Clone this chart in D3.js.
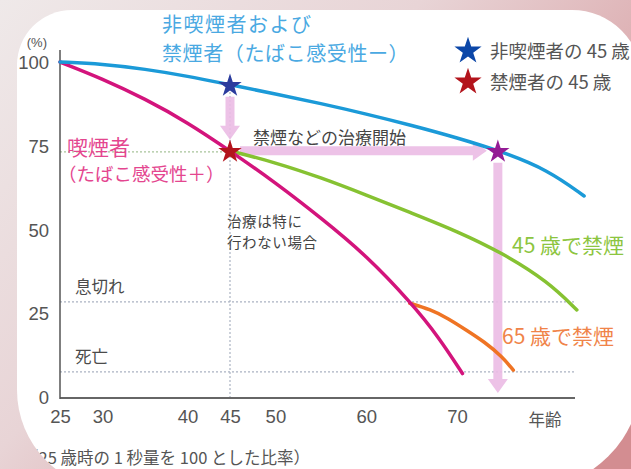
<!DOCTYPE html>
<html>
<head>
<meta charset="utf-8">
<script src="https://cdn.jsdelivr.net/npm/d3@7"></script>
<style>
  html, body { margin: 0; padding: 0; background: #fff; }
  svg { display: block; }
  text { font-family: "Noto Sans CJK JP", "Noto Sans", sans-serif; }
  .num { font-family: "Liberation Sans", Arial, sans-serif; }
</style>
</head>
<body>
<svg id="chart" width="631" height="469"></svg>
<script>
// ---------- data ----------
const xTicks = [25, 30, 40, 45, 50, 60, 70];
const yTicks = [0, 25, 50, 75, 100];

const nonSmokerAge = [25, 30, 35, 40, 45, 50, 55, 60, 65, 70, 75, 80, 84];
const nonSmokerVal = [100, 99.4, 97.9, 95.8, 93.2, 90.5, 87.6, 84.5, 81.1, 77.4, 73.2, 67.8, 60];

const smokerAge = [25, 30, 35, 40, 45, 50, 55, 60, 65, 68, 70.6];
const smokerVal = [100, 95, 89, 82, 73.5, 64, 53.5, 42.3, 28, 17.8, 7];

const quit45Age = [45, 50, 55, 60, 65, 70, 75, 80, 83.2];
const quit45Val = [73.5, 70, 65.5, 60.3, 54.9, 49.5, 43, 34.5, 26];

const quit65Age = [64.8, 67, 69, 71, 73, 75, 76.2];
const quit65Val = [28, 26.2, 23.5, 20, 16.5, 12, 8];

const thresholdLabels = ["息切れ", "死亡"];
const thresholdVals = [28.4, 7.5];

const markerAge = [45, 45, 74.5];
const markerVal = [93.2, 73.5, 73.5];

const legendLabels = ["非喫煙者の 45 歳", "禁煙者の 45 歳"];

// ---------- styles ----------
const C = {
  blue: "#1b9ad8", magenta: "#d3147c", green: "#86c232", orange: "#ef7424",
  starBlue: "#2b3c9e", starRed: "#b3141c", starPurple: "#941c95",
  legBlue: "#0c47a8", legRed: "#b3141c",
  arrow: "#ebbbe4", grid: "#aab2c2", text: "#4a4a4a", tick: "#555"
};

const svg = d3.select("#chart");

// background
const defs = svg.append("defs");
const bg = defs.append("linearGradient").attr("id", "bg")
  .attr("x1", 0).attr("y1", 0).attr("x2", 1).attr("y2", 0.7);
bg.append("stop").attr("offset", "0%").attr("stop-color", "#efe9e9");
bg.append("stop").attr("offset", "45%").attr("stop-color", "#e8d4d6");
bg.append("stop").attr("offset", "100%").attr("stop-color", "#d38d91");
svg.append("rect").attr("width", 631).attr("height", 469).attr("fill", "url(#bg)");

// card shape
const L = 17, T = 10, R = 642, B = 490, tl = 55, tr = 70, br = 115, bl = 100;
const cardPath = `M${L + tl},${T} H${R - tr} A${tr},${tr} 0 0 1 ${R},${T + tr} V${B - br} A${br},${br} 0 0 1 ${R - br},${B} H${L + bl} A${bl},${bl} 0 0 1 ${L},${B - bl} V${T + tl} A${tl},${tl} 0 0 1 ${L + tl},${T} Z`;
defs.append("clipPath").attr("id", "card").append("path").attr("d", cardPath);
svg.append("path").attr("d", cardPath).attr("fill", "#fff");

const g = svg.append("g").attr("clip-path", "url(#card)");

// scales
const x = d3.scaleLinear().domain([25, 45, 70, 85]).range([60, 230, 457, 593.2]);
const y = d3.scaleLinear().domain([0, 100]).range([397, 62]);

// threshold dotted lines
thresholdVals.forEach((v, i) => {
  g.append("line").attr("x1", x(25)).attr("x2", 575)
    .attr("y1", y(v)).attr("y2", y(v))
    .attr("stroke", C.grid).attr("stroke-width", 1.2).attr("stroke-dasharray", "2,2");
  g.append("text").attr("x", 75).attr("y", y(v) - 16)
    .attr("font-size", 16.5).attr("fill", C.text).attr("dominant-baseline", "central")
    .text(thresholdLabels[i]);
});
// 45 vertical dotted & level line
g.append("line").attr("x1", x(45)).attr("x2", x(45)).attr("y1", 92).attr("y2", y(0))
  .attr("stroke", C.grid).attr("stroke-width", 1.2).attr("stroke-dasharray", "2,2");
g.append("line").attr("x1", x(25)).attr("x2", x(45)).attr("y1", y(markerVal[1]) + 1).attr("y2", y(markerVal[1]) + 1)
  .attr("stroke", "#a8c49a").attr("stroke-width", 1.2).attr("stroke-dasharray", "2,2");

// axes
const xAxis = d3.axisBottom(x).tickValues(xTicks).tickSize(0).tickPadding(12);
const xg = g.append("g").attr("transform", `translate(0,${y(0) + 1})`).call(xAxis);
xg.select(".domain").remove();
xg.selectAll("text").attr("class", "num").attr("font-size", 18.5).attr("fill", C.tick);
g.append("line").attr("x1", x(25)).attr("x2", 575).attr("y1", y(0) + 1).attr("y2", y(0) + 1)
  .attr("stroke", "#666").attr("stroke-width", 2);

const yAxis = d3.axisLeft(y).tickValues(yTicks).tickSize(0).tickPadding(11);
const yg = g.append("g").attr("transform", `translate(${x(25)},0)`).call(yAxis);
yg.select(".domain").remove();
yg.selectAll("text").attr("class", "num").attr("font-size", 18.5).attr("fill", C.tick).attr("dy", "0.36em");
g.append("line").attr("x1", x(25)).attr("x2", x(25)).attr("y1", 50).attr("y2", y(0) + 2)
  .attr("stroke", "#555").attr("stroke-width", 1.5);

g.append("text").attr("x", 47).attr("y", 42).attr("text-anchor", "end").attr("class", "num")
  .attr("font-size", 13).attr("fill", C.tick).attr("dominant-baseline", "central").text("(%)");
g.append("text").attr("x", 545).attr("y", 419).attr("text-anchor", "middle")
  .attr("font-size", 16.5).attr("fill", C.tick).attr("dominant-baseline", "central").text("年齢");
g.append("text").attr("x", 310).attr("y", 457).attr("text-anchor", "end")
  .attr("font-size", 16.5).attr("fill", C.tick).attr("dominant-baseline", "central")
  .text("（25 歳時の 1 秒量を 100 とした比率）");

// arrows (pink)
function arrow(x1, y1, x2, y2) {
  const ang = Math.atan2(y2 - y1, x2 - x1);
  const hl = 14, hw = 10, sw = 4.5;
  const bx = x2 - hl * Math.cos(ang), by = y2 - hl * Math.sin(ang);
  const px = -Math.sin(ang), py = Math.cos(ang);
  const pts = [
    [x1 + px * sw, y1 + py * sw], [bx + px * sw, by + py * sw], [bx + px * hw, by + py * hw],
    [x2, y2], [bx - px * hw, by - py * hw], [bx - px * sw, by - py * sw], [x1 - px * sw, y1 - py * sw]
  ];
  g.append("polygon").attr("points", pts.map(p => p.join(",")).join(" "))
    .attr("fill", C.arrow).attr("opacity", 0.9);
}
arrow(x(markerAge[0]), y(markerVal[0]) + 12, x(markerAge[1]), y(markerVal[1]) - 11);
arrow(x(markerAge[1]) + 10, y(markerVal[1]), x(markerAge[2]) - 11, y(markerVal[2]));
arrow(x(markerAge[2]), y(markerVal[2]) + 12, x(markerAge[2]), y(0) - 4);

// curves
const line = d3.line().curve(d3.curveBasis).x(d => x(d[0])).y(d => y(d[1]));
function drawCurve(ages, vals, color) {
  g.append("path").datum(ages.map((a, i) => [a, vals[i]]))
    .attr("d", line).attr("fill", "none").attr("stroke", color)
    .attr("stroke-width", 3.5).attr("stroke-linecap", "round");
}
drawCurve(quit65Age, quit65Val, C.orange);
drawCurve(quit45Age, quit45Val, C.green);
drawCurve(smokerAge, smokerVal, C.magenta);
drawCurve(nonSmokerAge, nonSmokerVal, C.blue);

// stars
const star = d3.symbol().type(d3.symbolStar);
const markerColors = [C.starBlue, C.starRed, C.starPurple];
markerAge.forEach((a, i) => {
  g.append("path").attr("d", star.size(170)())
    .attr("transform", `translate(${x(a)},${y(markerVal[i]) + 1})`)
    .attr("fill", markerColors[i]);
});

// legend
const legColors = [C.legBlue, C.legRed];
legendLabels.forEach((t, i) => {
  const ly = 50 + i * 31;
  g.append("path").attr("d", star.size(230)()).attr("transform", `translate(468,${ly + 1})`)
    .attr("fill", legColors[i]);
  g.append("text").attr("x", 490).attr("y", ly).attr("font-size", 18.5)
    .attr("fill", "#555").attr("dominant-baseline", "central").text(t);
});

// annotations
function label(txt, xx, yy, size, color, anchor) {
  return g.append("text").attr("x", xx).attr("y", yy).attr("font-size", size)
    .attr("fill", color).attr("dominant-baseline", "central")
    .attr("text-anchor", anchor || "start").text(txt);
}
label("非喫煙者および", 162, 23, 20, "#4aa9e2").attr("letter-spacing", 1.5);
label("禁煙者（たばこ感受性ー）", 162, 52, 20, "#4aa9e2").attr("letter-spacing", 0.6);
label("喫煙者", 67, 146, 21, "#e4468f");
label("（たばこ感受性＋）", 58, 173, 18.5, "#e4468f");
label("禁煙などの治療開始", 253, 136, 17, "#444");
label("治療は特に", 227, 220, 14.5, "#444").attr("letter-spacing", 0.6);
label("行わない場合", 227, 241, 14.5, "#444").attr("letter-spacing", 0.6);
label("45 歳で禁煙", 512, 244, 21, "#8cc540");
label("65 歳で禁煙", 502, 335, 21, "#f08449");
</script>
</body>
</html>
